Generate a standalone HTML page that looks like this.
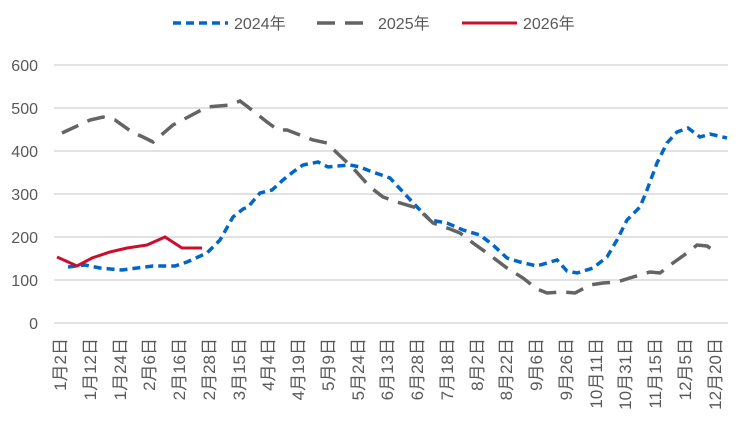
<!DOCTYPE html>
<html><head><meta charset="utf-8"><style>
body{margin:0;background:#fff;}
text{font-family:"Liberation Sans","Noto Sans CJK SC",sans-serif;fill:#595959;}
</style></head><body>
<svg width="739" height="425" xmlns="http://www.w3.org/2000/svg">
<g stroke="#d9d9d9" stroke-width="1.5">
<line x1="54" x2="728" y1="65" y2="65"/><line x1="54" x2="728" y1="108" y2="108"/>
<line x1="54" x2="728" y1="151" y2="151"/><line x1="54" x2="728" y1="194" y2="194"/>
<line x1="54" x2="728" y1="237" y2="237"/><line x1="54" x2="728" y1="280" y2="280"/>
<line x1="54" x2="728" y1="323" y2="323"/>
</g>
<g font-size="16" text-anchor="end">
<text x="38" y="71">600</text><text x="38" y="114">500</text><text x="38" y="157">400</text>
<text x="38" y="200">300</text><text x="38" y="243">200</text><text x="38" y="286">100</text><text x="38" y="329">0</text>
</g>
<g font-size="17" text-anchor="end">
<text transform="translate(66,338) rotate(-90)">1月2日</text>
<text transform="translate(96,338) rotate(-90)">1月12日</text>
<text transform="translate(126,338) rotate(-90)">1月24日</text>
<text transform="translate(155,338) rotate(-90)">2月6日</text>
<text transform="translate(185,338) rotate(-90)">2月16日</text>
<text transform="translate(215,338) rotate(-90)">2月28日</text>
<text transform="translate(245,338) rotate(-90)">3月15日</text>
<text transform="translate(274,338) rotate(-90)">4月4日</text>
<text transform="translate(304,338) rotate(-90)">4月19日</text>
<text transform="translate(334,338) rotate(-90)">5月9日</text>
<text transform="translate(364,338) rotate(-90)">5月24日</text>
<text transform="translate(393,338) rotate(-90)">6月13日</text>
<text transform="translate(423,338) rotate(-90)">6月28日</text>
<text transform="translate(453,338) rotate(-90)">7月18日</text>
<text transform="translate(483,338) rotate(-90)">8月2日</text>
<text transform="translate(512,338) rotate(-90)">8月22日</text>
<text transform="translate(542,338) rotate(-90)">9月6日</text>
<text transform="translate(572,338) rotate(-90)">9月26日</text>
<text transform="translate(602,338) rotate(-90)">10月11日</text>
<text transform="translate(631,338) rotate(-90)">10月31日</text>
<text transform="translate(661,338) rotate(-90)">11月15日</text>
<text transform="translate(691,338) rotate(-90)">12月5日</text>
<text transform="translate(721,338) rotate(-90)">12月20日</text>
</g>
<polyline fill="none" stroke="#0066c8" stroke-width="3.5" stroke-dasharray="8,5" points="68,267 85,265 100,268 122,270 137,268 153,266 175,266 187,262 207,253 220,240 233,217 243,209 248,207 260,193 272,190 283,180 293,172 303,165 318,162 328,167 337,166 350,165 360,167 370,171 390,178 403,192 417,207 430,220 447,223 463,230 480,235 493,245 507,258 520,262 537,266 557,260 567,271 577,273 593,268 607,257 617,240 627,220 640,207 647,190 657,163 667,143 677,132 688,128 700,137 710,134 727,138"/>
<polyline fill="none" stroke="#646464" stroke-width="3.5" stroke-dasharray="18,10" points="62,133 90,120 103,117 115,120 132,132 143,137 153,142 173,125 207,107 230,105 240,101 248,107 267,122 278,130 287,130 300,135 313,140 327,143 337,153 353,168 370,187 383,197 397,202 417,208 433,223 450,229 460,233 473,243 487,253 507,268 523,278 537,289 547,293 563,292 575,293 590,285 603,283 617,282 633,277 650,272 660,273 673,263 687,253 697,245 707,246 713,250"/>
<polyline fill="none" stroke="#c8102e" stroke-width="3" points="57,257 77,266 92,258 110,252 127,248 147,245 165,237 182,248 202,248"/>
<line x1="173" x2="228" y1="23" y2="23" stroke="#0066c8" stroke-width="3.5" stroke-dasharray="8,5"/>
<text x="234" y="29" font-size="16">2024年</text>
<line x1="317" x2="372" y1="23" y2="23" stroke="#646464" stroke-width="3.5" stroke-dasharray="18,10"/>
<text x="378" y="29" font-size="16">2025年</text>
<line x1="462" x2="517" y1="23" y2="23" stroke="#c8102e" stroke-width="3"/>
<text x="523" y="29" font-size="16">2026年</text>
</svg>
</body></html>
